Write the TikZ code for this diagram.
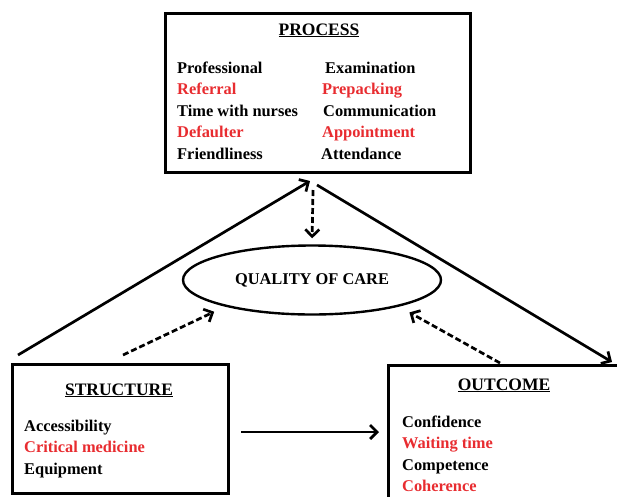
\documentclass[tikz,border=0pt]{standalone}
\usepackage{fontspec}
\setmainfont{Liberation Serif}
\usetikzlibrary{arrows.meta,shapes.geometric}
\definecolor{itemred}{RGB}{232,44,48}
\tikzset{
  box/.style={draw, line width=3pt, inner sep=0pt},
  head/.style={font=\fontsize{17.5}{20}\selectfont\bfseries, anchor=base},
  item/.style={font=\fontsize{16.4}{19}\selectfont\bfseries, anchor=base west, inner sep=0pt},
  conn/.style={line width=2.7pt, -{Straight Barb[length=7pt,width=14pt]}},
  dconn/.style={conn, dash pattern=on 6pt off 3pt}
}

\begin{document}
\begin{tikzpicture}[x=1pt, y=-1pt]
    \useasboundingbox (0,0) rectangle (617,496);
    \clip (0,0) rectangle (617,496);

    % boxes
    \node [box, minimum width=305pt, minimum height=159pt] (process) at (317.5,92.5) {};
    \node [box, minimum width=216pt, minimum height=129pt] (structure) at (120,428.5) {};
    \node [box, minimum width=252pt, minimum height=155pt] (outcome) at (514,442.5) {};
    \node [draw, ellipse, line width=2.4pt, minimum width=258pt, minimum height=69pt,
           font=\fontsize{16.4}{19}\selectfont\bfseries] (quality) at (312,280) {QUALITY OF CARE};

    % coordinates to be reused
    \coordinate (sLine) at (18,355);
    \coordinate (sDash) at (123,355);
    \coordinate (pTip) at (310,181);
    \coordinate (pLine) at (317,185);
    \coordinate (pDash) at (313,190);
    \coordinate (oTip) at (612,362);
    \coordinate (oDash) at (500,363);
    \coordinate (sArrow) at (241,432);
    \coordinate (oArrow) at (379,432);

    % process
    \node [head] (ptitle) at (319,35) {\underline{PROCESS}};
    \node [item] (p1) at (177,73) {Professional};
    \node [item, itemred] (p2) at (177,94.5) {Referral};
    \node [item] (p3) at (177,116) {Time with nurses};
    \node [item, itemred] (p4) at (177,137.5) {Defaulter};
    \node [item] (p5) at (177,159) {Friendliness};
    \node [item] (p6) at (325,73) {Examination};
    \node [item, itemred] (p7) at (322,94.5) {Prepacking};
    \node [item] (p8) at (323,116) {Communication};
    \node [item, itemred] (p9) at (322,137.5) {Appointment};
    \node [item] (p10) at (321,159) {Attendance};

    % structure
    \node [head] (stitle) at (119,395) {\underline{STRUCTURE}};
    \node [item] (s1) at (24,431) {Accessibility};
    \node [item, itemred] (s2) at (24,452.5) {Critical medicine};
    \node [item] (s3) at (24,474) {Equipment};

    % outcome
    \node [head] (otitle) at (504,390) {\underline{OUTCOME}};
    \node [item] (o1) at (402,427) {Confidence};
    \node [item, itemred] (o2) at (402,448) {Waiting time};
    \node [item] (o3) at (402,470) {Competence};
    \node [item, itemred] (o4) at (402,491) {Coherence};

    % connectors
    \draw [conn] (sLine) -- (pTip);
    \draw [conn] (pLine) -- (oTip);
    \draw [conn] (sArrow) -- (oArrow);
    \draw [dconn, shorten >=6pt] (pDash) -- (quality.north);
    \draw [dconn, shorten >=12pt] (sDash) -- (quality.-163.4);
    \draw [dconn, shorten >=12pt] (oDash) -- (quality.-17.8);
\end{tikzpicture}
\end{document}
